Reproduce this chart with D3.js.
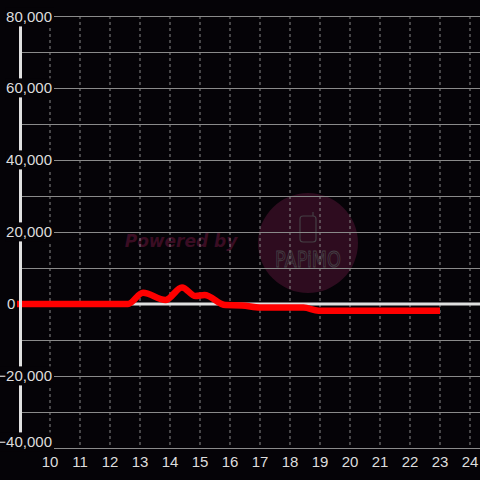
<!DOCTYPE html>
<html>
<head>
<meta charset="utf-8">
<script src="https://cdn.jsdelivr.net/npm/d3@7"></script>
<style>
  html, body { margin: 0; padding: 0; background: #050307; }
  svg { display: block; }
</style>
</head>
<body>
<div id="chart"></div>
<script>
// readings (hour of day, value)
const hours = [8.9, 12.6, 13.1, 13.85, 14.4, 14.85, 15.15, 15.85, 16.4, 17, 18.45, 18.95, 23];
const values = [0, 0, 3100, 1100, 4600, 2200, 2500, -300, -400, -1000, -1000, -1850, -1850];

const yTicks = [-40000, -20000, 0, 20000, 40000, 60000, 80000];
const yGrid = [-40000, -30000, -20000, -10000, 0, 10000, 20000, 30000, 40000, 50000, 60000, 70000, 80000];
const xTicks = [10, 11, 12, 13, 14, 15, 16, 17, 18, 19, 20, 21, 22, 23, 24];

const W = 480, H = 480;
const x = d3.scaleLinear().domain([9, 24]).range([20, 470]);
const y = d3.scaleLinear().domain([-40000, 80000]).range([448, 16]);

const svg = d3.select('#chart').append('svg')
  .attr('width', W).attr('height', H)
  .style('background', '#050307');

// watermark
const wm = svg.append('g');
wm.append('circle').attr('cx', 308).attr('cy', 243).attr('r', 50).attr('fill', '#2e0c1f');
wm.append('text')
  .attr('x', 181).attr('y', 247)
  .attr('text-anchor', 'middle')
  .attr('font-family', 'DejaVu Sans, sans-serif')
  .attr('font-size', 17).attr('font-weight', 'bold').attr('font-style', 'italic')
  .attr('fill', '#3a0d23')
  .text('Powered by');
wm.append('rect').attr('x', 300).attr('y', 216).attr('width', 16).attr('height', 26).attr('rx', 3)
  .attr('fill', 'none').attr('stroke', '#443f44').attr('stroke-width', 1.2);
wm.append('line').attr('x1', 313).attr('x2', 313).attr('y1', 212).attr('y2', 216)
  .attr('stroke', '#443f44').attr('stroke-width', 1.2);
wm.append('text')
  .attr('x', 275).attr('y', 267)
  .attr('font-family', 'DejaVu Sans, sans-serif')
  .attr('font-size', 21)
  .attr('textLength', 66)
  .attr('lengthAdjust', 'spacingAndGlyphs')
  .attr('fill', 'none').attr('stroke', '#443f44').attr('stroke-width', 0.9)
  .text('PAPiMO');

// grid
svg.append('g').selectAll('line').data(xTicks).enter().append('line')
  .attr('x1', d => x(d)).attr('x2', d => x(d))
  .attr('y1', y(80000)).attr('y2', y(-40000))
  .attr('stroke', '#8a8a8a').attr('stroke-width', 1)
  .attr('stroke-dasharray', '3,3');

svg.append('g').selectAll('line').data(yGrid).enter().append('line')
  .attr('x1', 20).attr('x2', W)
  .attr('y1', d => Math.round(y(d)) + 0.5).attr('y2', d => Math.round(y(d)) + 0.5)
  .attr('stroke', '#8a8a8a').attr('stroke-width', 1);

// zero line
svg.append('line')
  .attr('x1', 20).attr('x2', W)
  .attr('y1', y(0)).attr('y2', y(0))
  .attr('stroke', '#e0e0e0').attr('stroke-width', 3);

// series
const line = d3.line()
  .x((d, i) => x(hours[i]))
  .y(d => y(d))
  .curve(d3.curveMonotoneX);

svg.append('path')
  .datum(values)
  .attr('d', line)
  .attr('fill', 'none')
  .attr('stroke', '#ff0000')
  .attr('stroke-width', 6.5)
  .attr('stroke-linecap', 'butt')
  .attr('stroke-linejoin', 'round');

// y axis bar
svg.append('line')
  .attr('x1', 20.5).attr('x2', 20.5)
  .attr('y1', y(80000)).attr('y2', y(-40000))
  .attr('stroke', '#e0e0e0').attr('stroke-width', 3);

// y labels with dark background (clamped inside the plot at the ends)
const fmt = d3.format(',');
const labelY = d => Math.min(Math.max(y(d), 17), 442);
const yl = svg.append('g').selectAll('g').data(yTicks.filter(d => d !== 0)).enter().append('g');
yl.append('text')
  .attr('x', 52).attr('y', labelY)
  .attr('dy', '0.36em')
  .attr('text-anchor', 'end')
  .attr('font-family', 'Liberation Sans, Arial, sans-serif')
  .attr('font-size', 15)
  .attr('fill', '#dddddd')
  .text(d => fmt(d))
  .each(function () {
    const b = this.getBBox();
    d3.select(this.parentNode).insert('rect', 'text')
      .attr('x', b.x - 1).attr('y', b.y - 1)
      .attr('width', b.width + 3).attr('height', b.height + 2)
      .attr('fill', '#050307');
  });

// zero label sits left of the axis bar
svg.append('text')
  .attr('x', 7).attr('y', y(0))
  .attr('dy', '0.36em')
  .attr('font-family', 'Liberation Sans, Arial, sans-serif')
  .attr('font-size', 15)
  .attr('fill', '#dddddd')
  .text(fmt(0));

// bottom axis
svg.append('g').selectAll('text').data(xTicks).enter().append('text')
  .attr('x', d => x(d)).attr('y', 462)
  .attr('dy', '0.36em')
  .attr('text-anchor', 'middle')
  .attr('font-family', 'Liberation Sans, Arial, sans-serif')
  .attr('font-size', 15)
  .attr('fill', '#dddddd')
  .text(d => d);
</script>
</body>
</html>
